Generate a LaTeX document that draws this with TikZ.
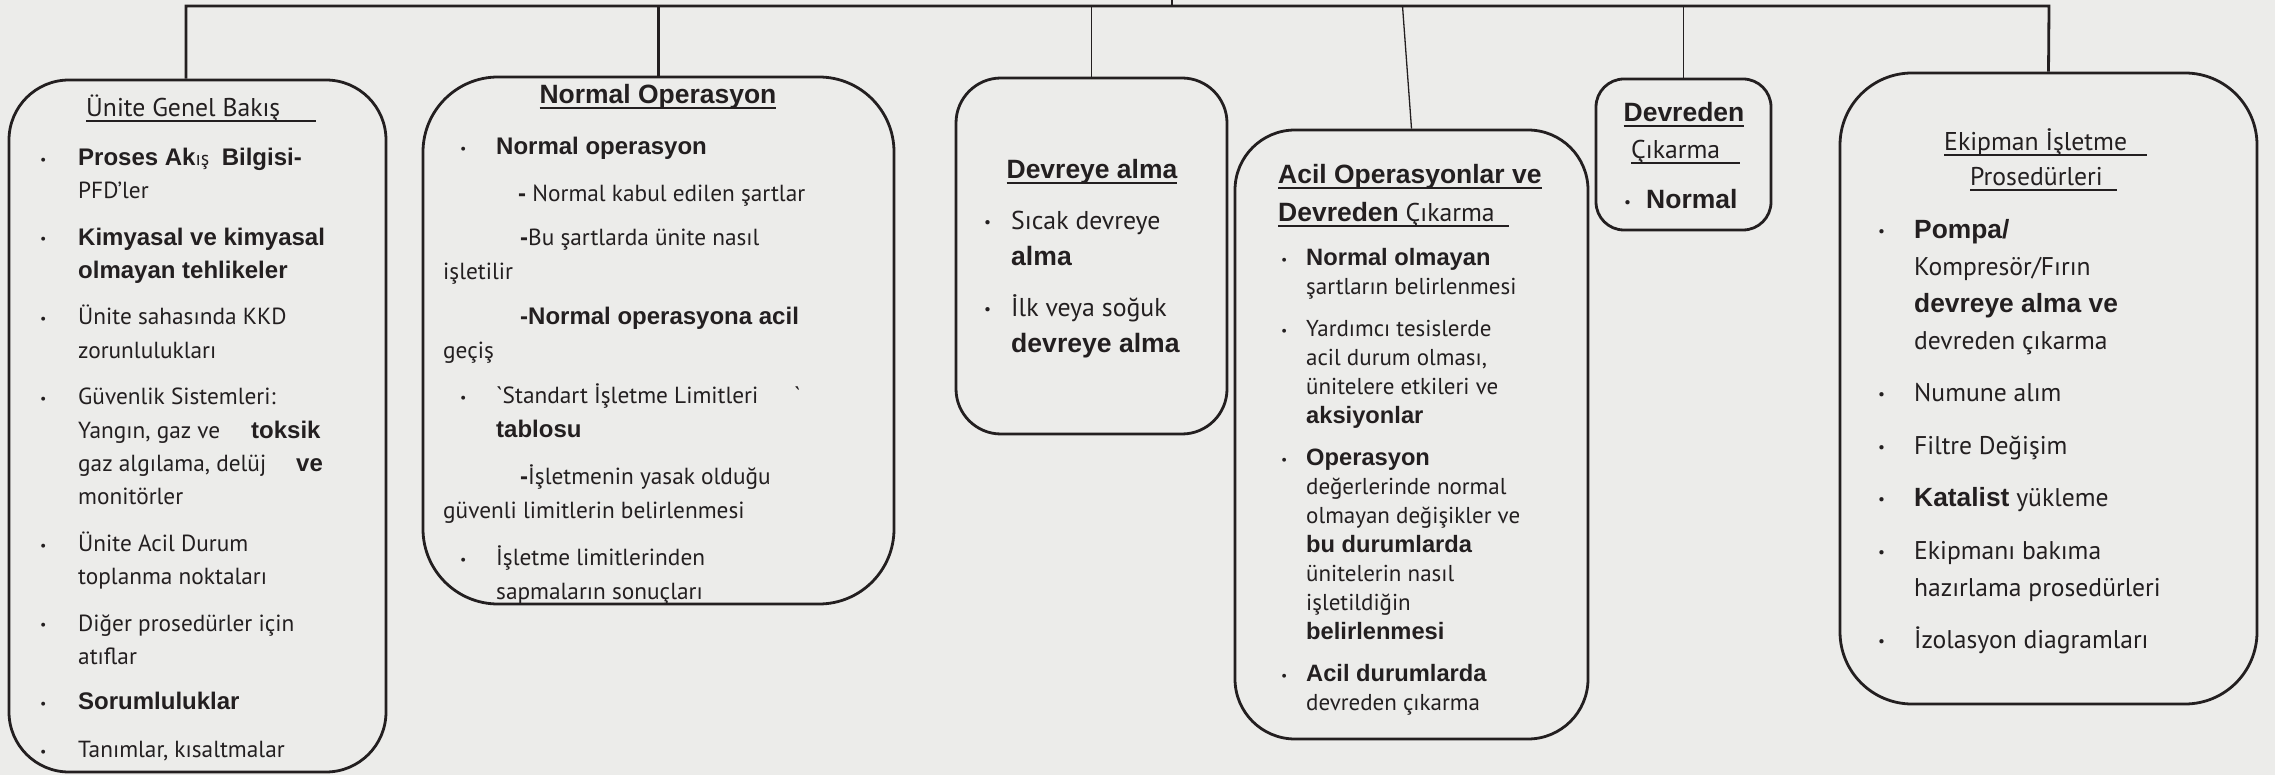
\documentclass[tikz,border=0pt]{standalone}
\usepackage{fontspec}
\setmainfont{PT Sans}
\newfontfamily\arialfont[Scale=1.03]{Liberation Sans}
\usepackage{graphicx}
\usepackage{tikz}

\definecolor{bgcol}{RGB}{236,236,234}
\definecolor{inkcol}{RGB}{35,31,32}

\newcommand{\bt}[1]{{\arialfont\bfseries #1}}
\newcommand{\bul}[1]{\makebox[#1][l]{\raisebox{0.05em}{\scalebox{0.6}{\textbullet}}}}
\newcommand{\fl}{\rule{0pt}{30pt}}
\newsavebox\ulbox
\newcommand{\undl}[2][0pt]{\sbox\ulbox{#2\hspace*{#1}}\rlap{\rule[-0.2em]{\wd\ulbox}{0.075em}}\usebox\ulbox}

\begin{document}
\begin{tikzpicture}[x=1pt,y=-1pt,
    box/.style={draw=inkcol, line width=2.8pt, rounded corners=#1, inner sep=0pt},
    body/.style={anchor=north west, inner sep=0pt, align=left, text=inkcol},
    ttl/.style={anchor=base, inner sep=0pt, text=inkcol, font=\fontsize{25.7}{30}\selectfont},
    link/.style={draw=inkcol, line width=1.3pt},
    trunk/.style={draw=inkcol, line width=2.8pt}]
    \useasboundingbox (0,0) rectangle (2275,775);
    \fill[bgcol] (0,0) rectangle (2275,775);

    \node[box=60pt, minimum width=377pt, minimum height=692pt] (b1) at (197.5,426) {};
    \node[box=75pt, minimum width=471pt, minimum height=527pt] (b2) at (658.5,340.5) {};
    \node[box=45pt, minimum width=271pt, minimum height=356pt] (b3) at (1091.5,256) {};
    \node[box=60pt, minimum width=353pt, minimum height=609pt] (b4) at (1411.5,434.5) {};
    \node[box=28pt, minimum width=175pt, minimum height=151pt] (b5) at (1683.5,154.5) {};
    \node[box=72pt, minimum width=417pt, minimum height=631pt] (b6) at (2048.5,388.5) {};

    \coordinate (root) at (1172,0);
    \coordinate (barL) at (186,6);
    \coordinate (barR) at (2049,6);
    \path (b4.north) ++(-9,0) coordinate (b4tap);
    \draw[trunk] (barL |- b1.north) -- (barL) -- (barR) -- (b6.north);
    \draw[link] (root) -- (root |- barL);
    \draw[trunk] (b2.north |- barL) -- (b2.north);
    \draw[link] (b3.north |- barL) -- (b3.north);
    \draw[link] (b4tap |- barL) -- (b4.north);
    \draw[link] (b5.north |- barL) -- (b5.north);

    % titles
    \node[ttl, anchor=base west] (b1h) at (86,117) {\undl[36pt]{Ünite Genel Bakış}};
    \node[ttl] (b2h) at (658,104) {\undl{\bt{Normal Operasyon}}};
    \node[ttl] (b3h) at (1092,179) {\undl{\bt{Devreye alma}}};
    \node[ttl, anchor=base west] (b4h) at (1278,184) {\undl{\bt{Acil Operasyonlar ve}}};
    \node[ttl, anchor=base west] (b4g) at (1278,222) {\undl[14pt]{\bt{Devreden} Çıkarma}};
    \node[ttl] (b5h) at (1684,122) {\undl{\bt{Devreden}}};
    \node[ttl, anchor=base west] (b5g) at (1631,159) {\undl[20pt]{Çıkarma}};
    \node[ttl, anchor=base west] (b6h) at (1944,151) {\undl[20pt]{Ekipman İşletme}};
    \node[ttl, anchor=base west] (b6g) at (1970,186) {\undl[14pt]{Prosedürleri}};

    % box texts
    \node[body, font=\fontsize{23.3}{33.4}\selectfont] (b1t) at (40,135) {%
        \fl\bul{38pt}\bt{Proses Ak}{\fontsize{20}{20}\selectfont ış}\ \ \bt{Bilgisi-}\\
        \hspace*{38pt}PFD’ler\\[13pt]
        \bul{38pt}\bt{Kimyasal ve kimyasal}\\
        \hspace*{38pt}\bt{olmayan tehlikeler}\\[13pt]
        \bul{38pt}Ünite sahasında KKD\\
        \hspace*{38pt}zorunlulukları\\[13pt]
        \bul{38pt}Güvenlik Sistemleri:\\
        \hspace*{38pt}\makebox[173pt][l]{Yangın, gaz ve}\bt{toksik}\\
        \hspace*{38pt}\makebox[218pt][l]{gaz algılama, delüj}\bt{ve}\\
        \hspace*{38pt}monitörler\\[13pt]
        \bul{38pt}Ünite Acil Durum\\
        \hspace*{38pt}toplanma noktaları\\[13pt]
        \bul{38pt}Diğer prosedürler için\\
        \hspace*{38pt}atıflar\\[12pt]
        \bul{38pt}\bt{Sorumluluklar}\\[14pt]
        \bul{38pt}Tanımlar, kısaltmalar};
    \node[body, font=\fontsize{23.3}{34}\selectfont] (b2t) at (443,124) {%
        \fl\hspace*{17pt}\bul{36pt}\bt{Normal operasyon}\\[13pt]
        \hspace*{75pt}\bt{-} Normal kabul edilen şartlar\\[10pt]
        \hspace*{77pt}\bt{-}Bu şartlarda ünite nasıl\\
        işletilir\\[11pt]
        \hspace*{77pt}\bt{-Normal operasyona acil}\\
        geçiş\\[11pt]
        \hspace*{17pt}\bul{36pt}\makebox[298pt][l]{\textasciigrave Standart İşletme Limitleri}\textasciigrave\\
        \hspace*{53pt}\bt{tablosu}\\[13pt]
        \hspace*{77pt}\bt{-}İşletmenin yasak olduğu\\
        güvenli limitlerin belirlenmesi\\[13pt]
        \hspace*{17pt}\bul{36pt}İşletme limitlerinden\\
        \hspace*{53pt}sapmaların sonuçları};
    \node[body, font=\fontsize{25.8}{36}\selectfont] (b3t) at (984,199) {%
        \fl\bul{27pt}Sıcak devreye\\
        \hspace*{27pt}\bt{alma}\\[15pt]
        \bul{27pt}İlk veya soğuk\\
        \hspace*{27pt}\bt{devreye alma}};
    \node[body, font=\fontsize{23}{29}\selectfont] (b4t) at (1281,235) {%
        \fl\bul{25pt}\bt{Normal olmayan}\\
        \hspace*{25pt}şartların belirlenmesi\\[13pt]
        \bul{25pt}Yardımcı tesislerde\\
        \hspace*{25pt}acil durum olması,\\
        \hspace*{25pt}ünitelere etkileri ve\\
        \hspace*{25pt}\bt{aksiyonlar}\\[13pt]
        \bul{25pt}\bt{Operasyon}\\
        \hspace*{25pt}değerlerinde normal\\
        \hspace*{25pt}olmayan değişikler ve\\
        \hspace*{25pt}\bt{bu durumlarda}\\
        \hspace*{25pt}ünitelerin nasıl\\
        \hspace*{25pt}işletildiğin\\
        \hspace*{25pt}\bt{belirlenmesi}\\[13pt]
        \bul{25pt}\bt{Acil durumlarda}\\
        \hspace*{25pt}devreden çıkarma};
    \node[ttl, anchor=base west] (b5t) at (1624,209) {\bul{22pt}\bt{Normal}};
    \node[body, font=\fontsize{25.6}{37}\selectfont] (b6t) at (1878,208) {%
        \fl\bul{36pt}\bt{Pompa/}\\
        \hspace*{36pt}Kompresör/Fırın\\
        \hspace*{36pt}\bt{devreye alma ve}\\
        \hspace*{36pt}devreden çıkarma\\[15pt]
        \bul{36pt}Numune alım\\[16pt]
        \bul{36pt}Filtre Değişim\\[15pt]
        \bul{36pt}\bt{Katalist} yükleme\\[16pt]
        \bul{36pt}Ekipmanı bakıma\\
        \hspace*{36pt}hazırlama prosedürleri\\[15pt]
        \bul{36pt}İzolasyon diagramları};
\end{tikzpicture}
\end{document}
